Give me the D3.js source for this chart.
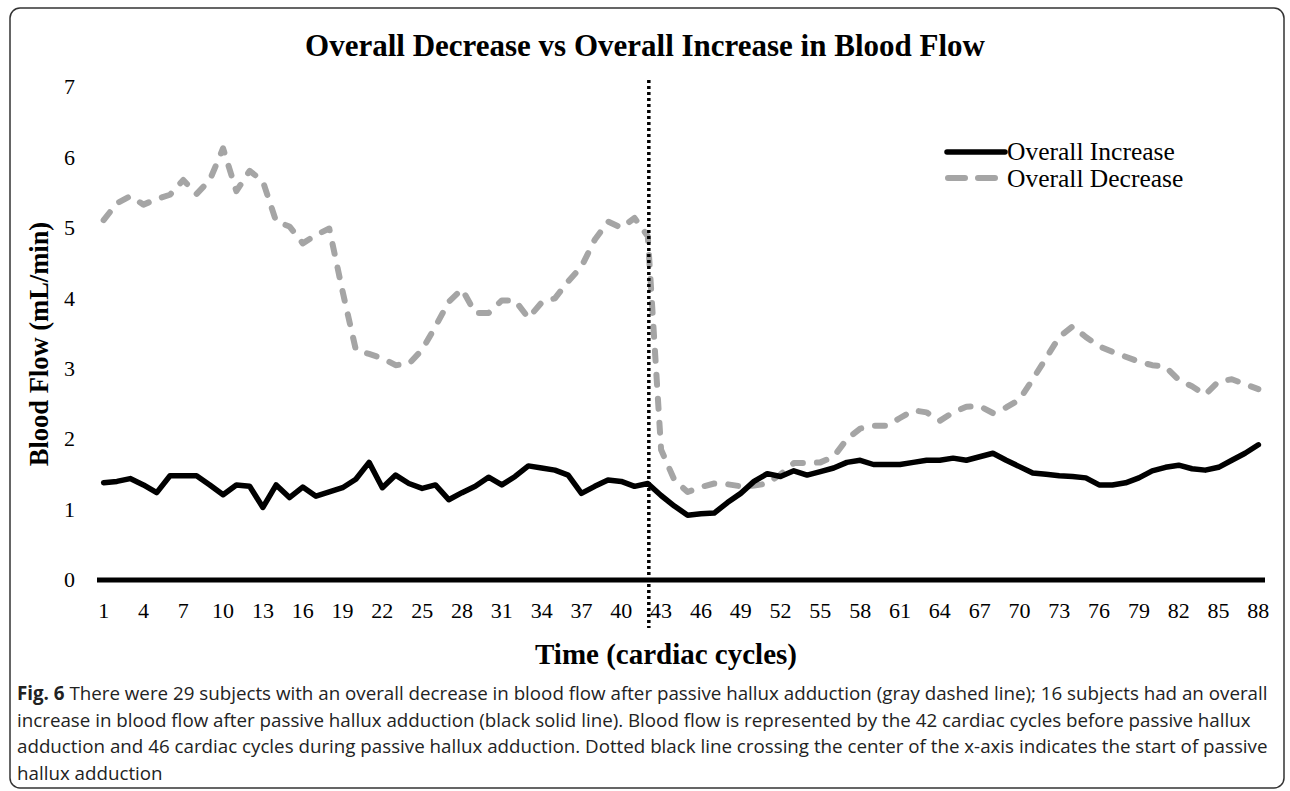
<!DOCTYPE html>
<html lang="en">
<head>
    <meta charset="UTF-8">
    <title>Overall Decrease vs Overall Increase in Blood Flow</title>
    <script src="https://d3js.org/d3.v7.min.js"></script>
    <style>
        body { margin: 0; background: #fff; }
        svg { display: block; }
        .serif { font-family: "Liberation Serif", "Times New Roman", serif; }
        .caption { font-family: "Open Sans", sans-serif; }
    </style>
</head>
<body>
    <div id="chart"></div>

    <script>
        // cardiac cycles 1..88
        var cycles = d3.range(1, 89);
        var tickCycles = cycles.filter(function(c) { return (c - 1) % 3 === 0; });
        var yTicks = [0, 1, 2, 3, 4, 5, 6, 7];

        // Overall Increase (black solid), mL/min
        var increase = [
            1.38, 1.40, 1.44, 1.35, 1.24, 1.48, 1.48, 1.48, 1.35, 1.21,
            1.35, 1.33, 1.03, 1.35, 1.17, 1.32, 1.19, 1.25, 1.31, 1.43,
            1.67, 1.31, 1.49, 1.37, 1.30, 1.35, 1.14, 1.24, 1.33, 1.46,
            1.35, 1.47, 1.62, 1.59, 1.56, 1.49, 1.23, 1.33, 1.42, 1.40,
            1.33, 1.37, 1.20, 1.05, 0.92, 0.94, 0.95, 1.10, 1.23, 1.40,
            1.51, 1.47, 1.55, 1.49, 1.54, 1.59, 1.67, 1.70, 1.64, 1.64,
            1.64, 1.67, 1.70, 1.70, 1.73, 1.70, 1.75, 1.80, 1.70, 1.61,
            1.52, 1.50, 1.48, 1.47, 1.45, 1.35, 1.35, 1.38, 1.45, 1.55,
            1.60, 1.63, 1.58, 1.56, 1.60, 1.70, 1.80, 1.92
        ];

        // Overall Decrease (gray dashed), mL/min
        var decrease = [
            5.11, 5.35, 5.45, 5.33, 5.41, 5.47, 5.68, 5.48, 5.68, 6.13,
            5.52, 5.81, 5.66, 5.09, 5.02, 4.78, 4.90, 4.99, 4.10, 3.27,
            3.21, 3.15, 3.05, 3.07, 3.27, 3.60, 3.95, 4.13, 3.79, 3.79,
            3.97, 3.97, 3.72, 3.94, 4.00, 4.24, 4.45, 4.83, 5.09, 5.00,
            5.14, 4.88, 1.85, 1.42, 1.25, 1.32, 1.37, 1.36, 1.33, 1.34,
            1.37, 1.50, 1.66, 1.66, 1.67, 1.75, 2.00, 2.15, 2.19, 2.19,
            2.30, 2.41, 2.38, 2.26, 2.38, 2.46, 2.47, 2.37, 2.45, 2.56,
            2.85, 3.15, 3.45, 3.60, 3.45, 3.32, 3.24, 3.17, 3.10, 3.05,
            3.03, 2.84, 2.75, 2.63, 2.82, 2.85, 2.78, 2.71
        ];

        var interventionStart = 42;

        var captionLines = [
            [["Fig. 6", true], [" There were 29 subjects with an overall decrease in blood flow after passive hallux adduction (gray dashed line); 16 subjects had an overall", false]],
            [["increase in blood flow after passive hallux adduction (black solid line). Blood flow is represented by the 42 cardiac cycles before passive hallux", false]],
            [["adduction and 46 cardiac cycles during passive hallux adduction. Dotted black line crossing the center of the x-axis indicates the start of passive", false]],
            [["hallux adduction", false]]
        ];

        var width = 1290;
        var height = 791;

        var svg = d3.select("#chart").append("svg")
            .attr("width", width)
            .attr("height", height);

        // figure frame
        svg.append("rect")
            .attr("x", 10).attr("y", 8)
            .attr("width", 1274).attr("height", 780)
            .attr("rx", 10).attr("ry", 10)
            .attr("fill", "none")
            .attr("stroke", "#333")
            .attr("stroke-width", 1.5);

        var x = d3.scalePoint()
            .domain(cycles)
            .range([97, 1265])
            .padding(0.5);

        var y = d3.scaleLinear()
            .domain([0, 7])
            .range([580, 87]);

        // title
        svg.append("text")
            .attr("class", "serif")
            .attr("x", 645).attr("y", 56)
            .attr("text-anchor", "middle")
            .attr("font-size", 31)
            .attr("font-weight", "bold")
            .text("Overall Decrease vs Overall Increase in Blood Flow");

        // y tick labels
        svg.append("g").selectAll("text")
            .data(yTicks)
            .enter().append("text")
            .attr("class", "serif")
            .attr("x", 75)
            .attr("y", function(d) { return y(d); })
            .attr("dy", "0.33em")
            .attr("text-anchor", "end")
            .attr("font-size", 22)
            .text(function(d) { return d; });

        // x tick labels
        svg.append("g").selectAll("text")
            .data(tickCycles)
            .enter().append("text")
            .attr("class", "serif")
            .attr("x", function(d) { return x(d); })
            .attr("y", 618)
            .attr("text-anchor", "middle")
            .attr("font-size", 22)
            .text(function(d) { return d; });

        // axis titles
        svg.append("text")
            .attr("class", "serif")
            .attr("x", 666).attr("y", 664)
            .attr("text-anchor", "middle")
            .attr("font-size", 29)
            .attr("font-weight", "bold")
            .text("Time (cardiac cycles)");

        svg.append("text")
            .attr("class", "serif")
            .attr("transform", "translate(48,344) rotate(-90)")
            .attr("text-anchor", "middle")
            .attr("font-size", 26.5)
            .attr("font-weight", "bold")
            .text("Blood Flow (mL/min)");

        // zero line
        svg.append("line")
            .attr("x1", x.range()[0]).attr("x2", x.range()[1])
            .attr("y1", y(0)).attr("y2", y(0))
            .attr("stroke", "#000")
            .attr("stroke-width", 5);

        var line = d3.line()
            .x(function(d, i) { return x(cycles[i]); })
            .y(function(d) { return y(d); });

        svg.append("path")
            .datum(decrease)
            .attr("d", line)
            .attr("fill", "none")
            .attr("stroke", "#a5a5a5")
            .attr("stroke-width", 6)
            .attr("stroke-linecap", "round")
            .attr("stroke-linejoin", "round")
            .attr("stroke-dasharray", "10,14");

        svg.append("path")
            .datum(increase)
            .attr("d", line)
            .attr("fill", "none")
            .attr("stroke", "#000")
            .attr("stroke-width", 5.5)
            .attr("stroke-linecap", "round")
            .attr("stroke-linejoin", "round");

        // start of passive hallux adduction
        svg.append("line")
            .attr("x1", x(interventionStart) + 1).attr("x2", x(interventionStart) + 1)
            .attr("y1", 80).attr("y2", 628)
            .attr("stroke", "#000")
            .attr("stroke-width", 3.5)
            .attr("stroke-dasharray", "3,3");

        // legend
        var legend = svg.append("g");
        legend.append("line")
            .attr("x1", 947).attr("x2", 1005)
            .attr("y1", 152).attr("y2", 152)
            .attr("stroke", "#000").attr("stroke-width", 5.5)
            .attr("stroke-linecap", "round");
        legend.append("text")
            .attr("class", "serif")
            .attr("x", 1007).attr("y", 160)
            .attr("font-size", 25.5)
            .text("Overall Increase");
        legend.append("line")
            .attr("x1", 948).attr("x2", 995)
            .attr("y1", 178).attr("y2", 178)
            .attr("stroke", "#a5a5a5").attr("stroke-width", 6)
            .attr("stroke-linecap", "round")
            .attr("stroke-dasharray", "17,13");
        legend.append("text")
            .attr("class", "serif")
            .attr("x", 1007).attr("y", 187)
            .attr("font-size", 25.5)
            .text("Overall Decrease");

        // caption
        var cap = svg.append("g").attr("class", "caption");
        captionLines.forEach(function(parts, i) {
            var t = cap.append("text")
                .attr("x", 17)
                .attr("y", 700 + i * 26.7)
                .attr("font-size", 18.75)
                .attr("fill", "#222");
            parts.forEach(function(p) {
                t.append("tspan")
                    .attr("font-weight", p[1] ? "bold" : "normal")
                    .text(p[0]);
            });
        });
    </script>
</body>
</html>
